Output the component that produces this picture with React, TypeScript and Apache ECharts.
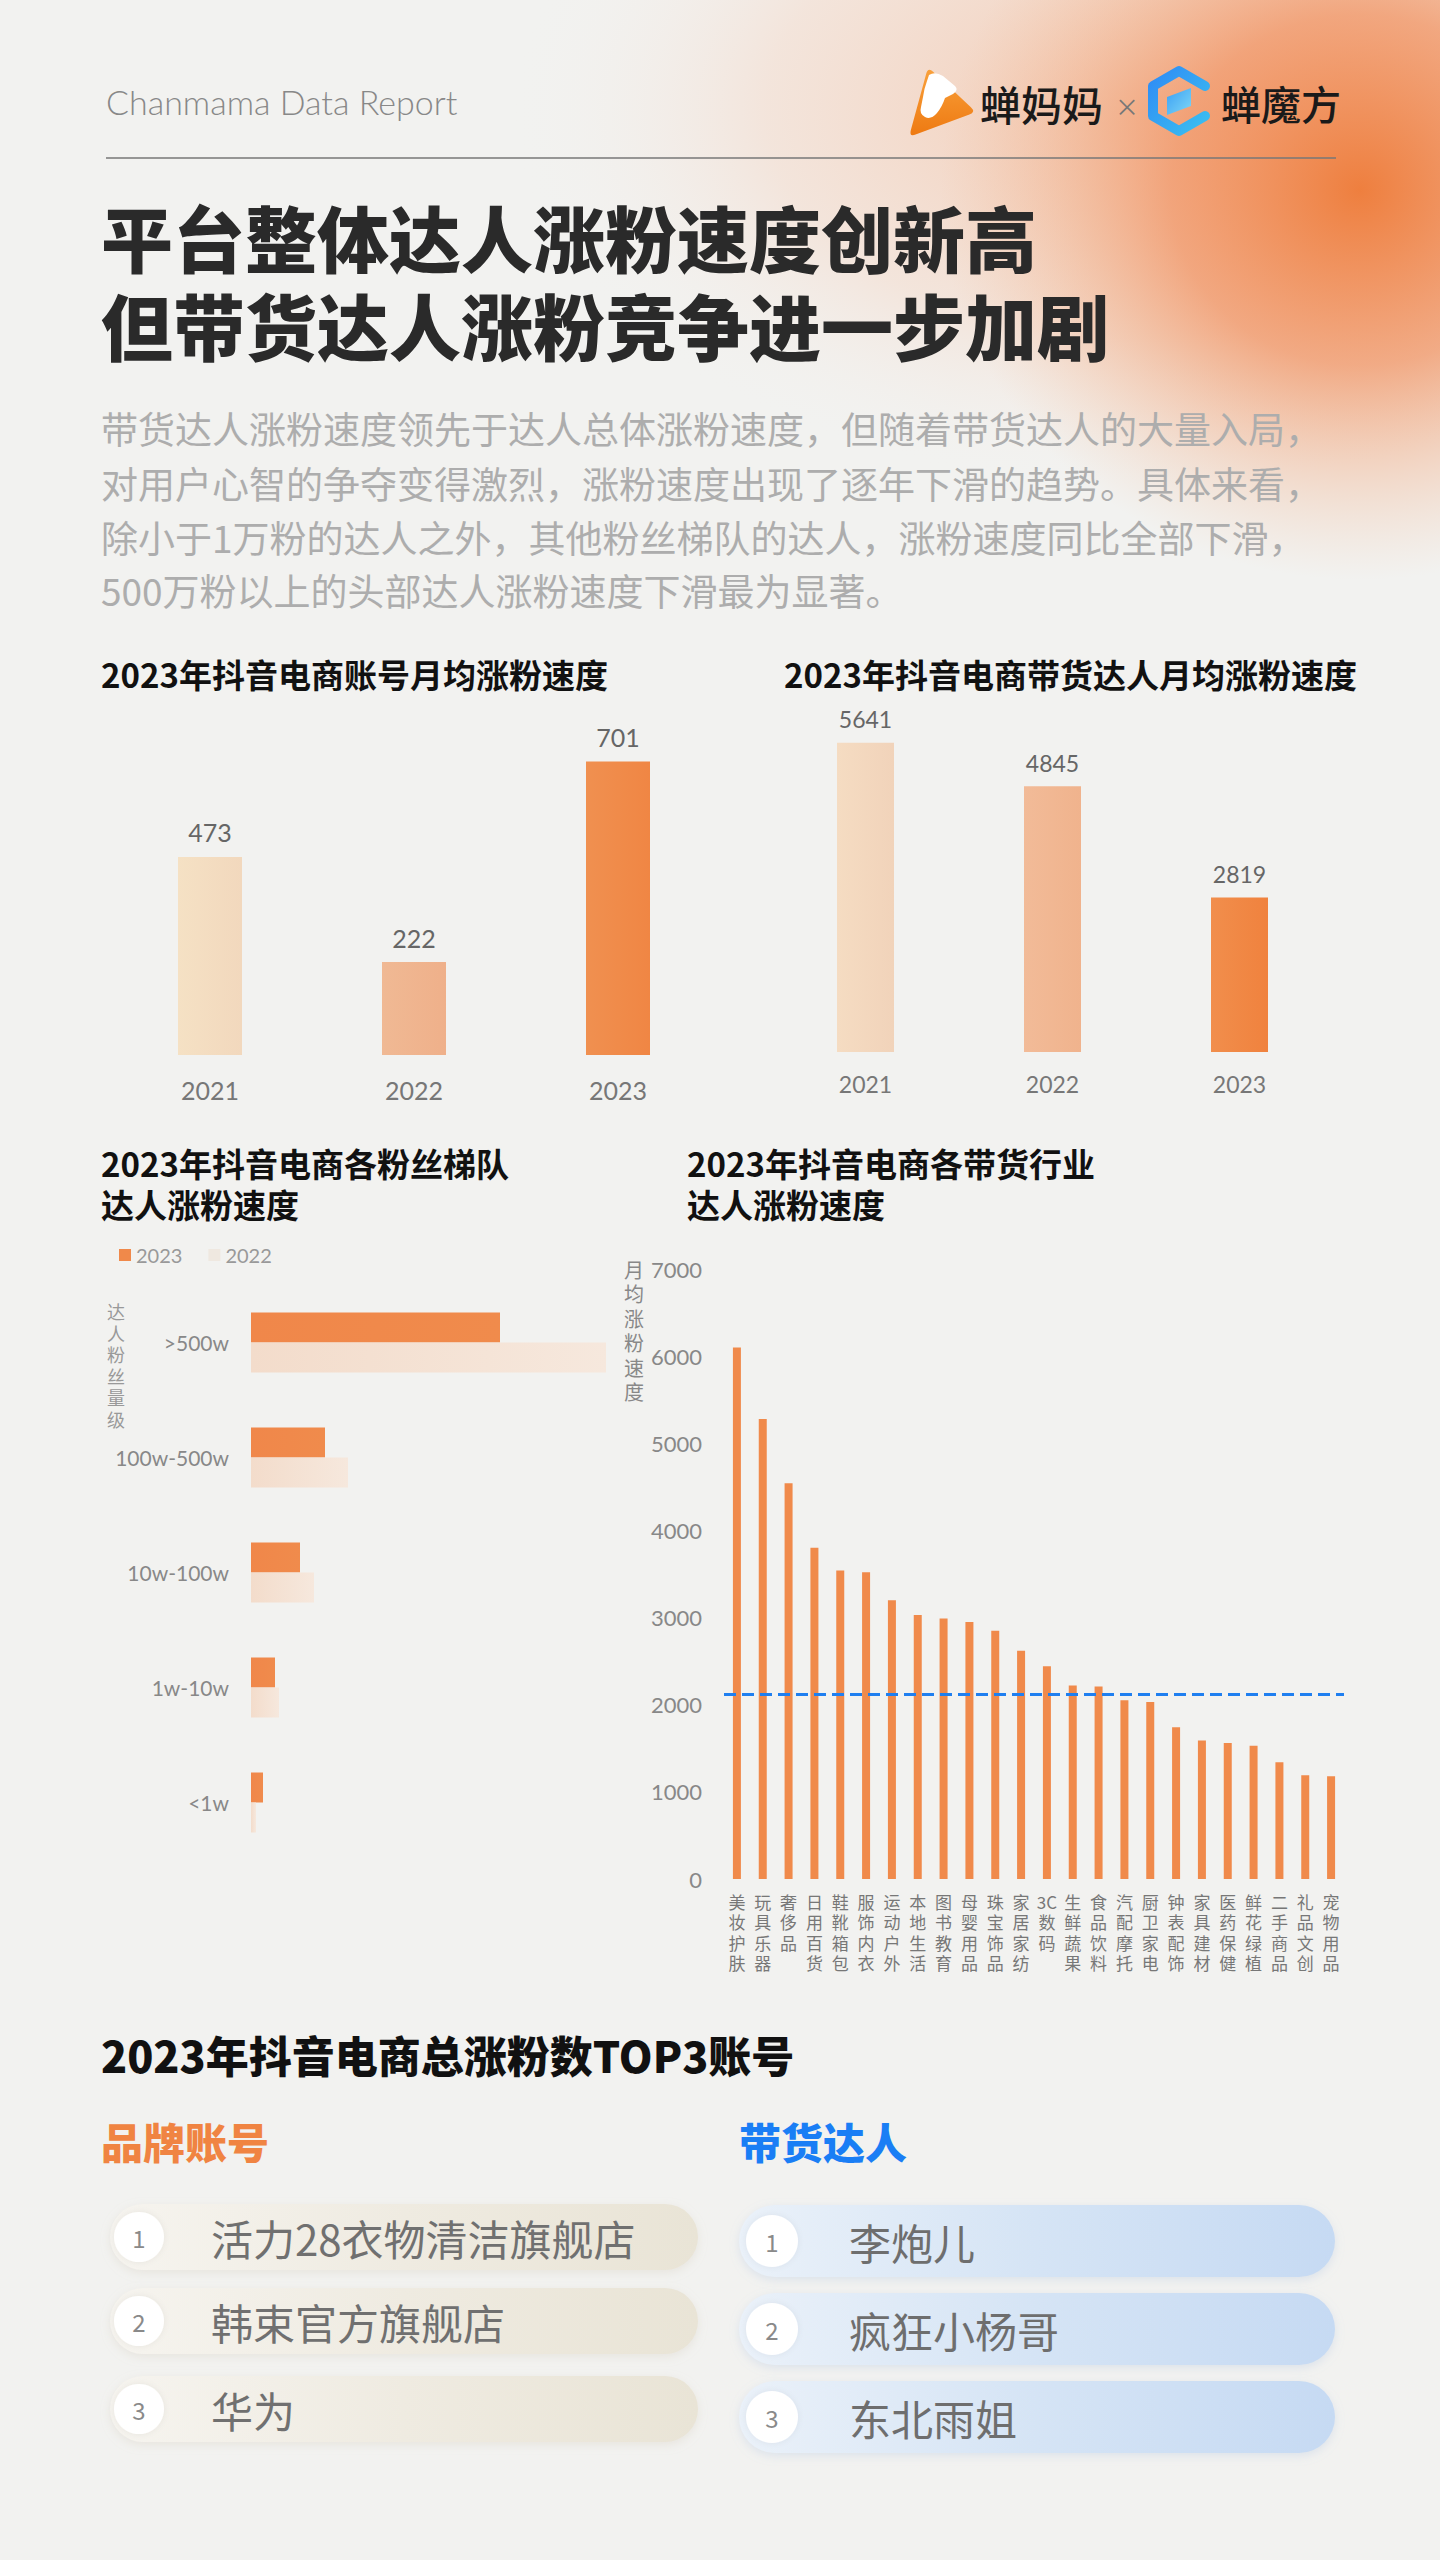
import React, { useEffect, useRef } from 'react';
import * as echarts from 'echarts';

const FONT = '"Noto Sans CJK SC", "Noto Sans", sans-serif';
const LIGHT = 'Lato, "Noto Sans", "Noto Sans CJK SC", sans-serif';

const headerText = 'Chanmama Data Report';
const titleLines = ['平台整体达人涨粉速度创新高', '但带货达人涨粉竞争进一步加剧'];
const paragraphLines = [
  '带货达人涨粉速度领先于达人总体涨粉速度，但随着带货达人的大量入局，',
  '对用户心智的争夺变得激烈，涨粉速度出现了逐年下滑的趋势。具体来看，',
  '除小于1万粉的达人之外，其他粉丝梯队的达人，涨粉速度同比全部下滑，',
  '500万粉以上的头部达人涨粉速度下滑最为显著。',
];

const years = ['2021', '2022', '2023'];
const accountSpeed = [473, 222, 701];
const sellerSpeed = [5641, 4845, 2819];

const tiers = ['>500w', '100w-500w', '10w-100w', '1w-10w', '<1w'];
const tier2023 = [249, 74, 49, 24, 12];
const tier2022 = [355, 97, 63, 28, 5];
const tierAxisName = '达人粉丝量级';

const industries = ['美妆护肤', '玩具乐器', '奢侈品', '日用百货', '鞋靴箱包', '服饰内衣', '运动户外', '本地生活', '图书教育', '母婴用品', '珠宝饰品', '家居家纺', '3C数码', '生鲜蔬果', '食品饮料', '汽配摩托', '厨卫家电', '钟表配饰', '家具建材', '医药保健', '鲜花绿植', '二手商品', '礼品文创', '宠物用品'];
const industrySpeed = [6100, 5280, 4540, 3800, 3540, 3520, 3200, 3030, 2990, 2950, 2850, 2620, 2440, 2220, 2210, 2050, 2030, 1740, 1590, 1560, 1530, 1340, 1190, 1180];
const industryRefLine = 2120;
const industryAxisName = '月均涨粉速度';

const brandTop3 = ['活力28衣物清洁旗舰店', '韩束官方旗舰店', '华为'];
const sellerTop3 = ['李炮儿', '疯狂小杨哥', '东北雨姐'];

const ORANGE_LOGO = 'M17.2 6.8 Q19 0 24.1 4.8 L61.9 40.2 Q67 45 60.4 47.5 L6.6 67.5 Q0 70 1.8 63.2 Z';
const ORANGE_BIRD = 'M20 8 Q26 4 34 9 L46 19 Q50 23 44 27 L36 31 Q33 40 28 46 Q22 53 16 50 Q10 47 12 40 L14 30 Q15 22 18 14 Z';
try {
  echarts.graphic.registerShape('cmmLogo', echarts.graphic.extendPath(ORANGE_LOGO, {}) as any);
  echarts.graphic.registerShape('cmmBird', echarts.graphic.extendPath(ORANGE_BIRD, {}) as any);
} catch (e) {}

function txt(x: number, y: number, text: string, o: any = {}) {
  const align = o.align || 'left';
  const va = o.va || 'middle';
  return {
    type: 'text',
    x,
    y,
    z: o.z ?? 10,
    style: {
      text,
      fill: o.color || '#333',
      fontSize: o.size || 20,
      fontWeight: o.weight || 'normal',
      fontFamily: o.family || FONT,
      align,
      verticalAlign: va,
      textAlign: align,
      textVerticalAlign: va,
      lineHeight: o.lineHeight,
    },
  };
}

function buildOption() {
  const g: any[] = [];
  // background blobs
  g.push({
    type: 'ellipse', z: 0,
    shape: { cx: 1150, cy: 110, rx: 640, ry: 380 },
    style: { fill: new echarts.graphic.RadialGradient(0.5, 0.5, 0.5, [
      { offset: 0, color: 'rgba(244,170,130,0.6)' },
      { offset: 0.6, color: 'rgba(246,200,175,0.32)' },
      { offset: 1, color: 'rgba(242,242,240,0)' },
    ]) },
  });
  g.push({
    type: 'ellipse', z: 0,
    shape: { cx: 1360, cy: 190, rx: 420, ry: 390 },
    style: { fill: new echarts.graphic.RadialGradient(0.5, 0.5, 0.5, [
      { offset: 0, color: 'rgba(238,122,55,0.95)' },
      { offset: 0.45, color: 'rgba(241,145,95,0.72)' },
      { offset: 1, color: 'rgba(243,190,155,0)' },
    ]) },
  });

  // header
  g.push(txt(106, 101, headerText, { size: 34, color: '#888', weight: 300, family: LIGHT }));
  g.push({ type: 'line', z: 5, shape: { x1: 106, y1: 158, x2: 1336, y2: 158 }, style: { stroke: '#777', lineWidth: 1.5 } });
  // orange logo
  g.push({ type: 'cmmLogo', x: 909, y: 67, scaleX: 1.0, scaleY: 1.0, z: 10,
    style: { fill: new echarts.graphic.LinearGradient(0, 0, 0, 1, [{ offset: 0, color: '#f9a03a' }, { offset: 1, color: '#ee7a12' }]) } });
  g.push({ type: 'cmmBird', x: 909, y: 67, scaleX: 1.0, scaleY: 1.0, z: 11, style: { fill: '#ffffff' } });
  g.push(txt(980, 103, '蝉妈妈', { size: 41, weight: 500, color: '#1a1a1a' }));
  g.push(txt(1127, 105, '×', { size: 24, color: '#777', align: 'center' }));
  // blue logo
  g.push({ type: 'polyline', z: 10,
    shape: { points: [[1205, 86], [1179, 71], [1153, 86], [1153, 116], [1179, 131], [1205, 116]] },
    style: { fill: 'none', lineWidth: 10, lineJoin: 'round', lineCap: 'round',
      stroke: new echarts.graphic.LinearGradient(0, 0, 1, 1, [{ offset: 0, color: '#2f8cf5' }, { offset: 1, color: '#3bbff0' }]) } });
  g.push({ type: 'polygon', z: 11,
    shape: { points: [[1167, 97], [1191, 88], [1191, 106], [1167, 115]] },
    style: { fill: new echarts.graphic.LinearGradient(0, 0, 1, 1, [{ offset: 0, color: '#3aa0f5' }, { offset: 1, color: '#7fd7f5' }]) } });
  g.push(txt(1221, 103, '蝉魔方', { size: 40, weight: 500, color: '#1a1a1a' }));

  // title
  g.push(txt(101, 235, titleLines[0], { size: 72, weight: 900, color: '#2a2a2a' }));
  g.push(txt(101, 323, titleLines[1], { size: 72, weight: 900, color: '#2a2a2a' }));
  const paraY = [428, 483, 537, 590];
  paragraphLines.forEach((l, i) => g.push(txt(101, paraY[i], l, { size: 37, color: '#adadad' })));

  // section titles
  g.push(txt(101, 674, '2023年抖音电商账号月均涨粉速度', { size: 33, weight: 'bold', color: '#111' }));
  g.push(txt(784, 674, '2023年抖音电商带货达人月均涨粉速度', { size: 33, weight: 'bold', color: '#111' }));
  g.push(txt(101, 1163, '2023年抖音电商各粉丝梯队', { size: 33, weight: 'bold', color: '#111' }));
  g.push(txt(101, 1204, '达人涨粉速度', { size: 33, weight: 'bold', color: '#111' }));
  g.push(txt(687, 1163, '2023年抖音电商各带货行业', { size: 33, weight: 'bold', color: '#111' }));
  g.push(txt(687, 1204, '达人涨粉速度', { size: 33, weight: 'bold', color: '#111' }));

  // axis names (vertical, one glyph per line)
  tierAxisName.split('').forEach((c, i) => g.push(txt(116, 1311 + i * 21.6, c, { size: 18, color: '#999', align: 'center' })));
  industryAxisName.split('').forEach((c, i) => g.push(txt(634, 1269 + i * 24.5, c, { size: 20, color: '#888', align: 'center', z: 20 })));

  // top3 section
  g.push(txt(101, 2054, '2023年抖音电商总涨粉数TOP3账号', { size: 43, weight: 900, color: '#111' }));
  g.push(txt(101, 2140, '品牌账号', { size: 42, weight: 900, color: '#f08442' }));
  g.push(txt(739, 2140, '带货达人', { size: 42, weight: 900, color: '#1a7ef5' }));

  const leftY = [2237, 2321, 2409];
  const rightY = [2241, 2329, 2417];
  brandTop3.forEach((name, i) => {
    const h = 66;
    g.push({ type: 'rect', z: 5, shape: { x: 110, y: leftY[i] - h / 2, width: 588, height: h, r: h / 2 },
      style: { fill: new echarts.graphic.LinearGradient(0, 0, 1, 0, [{ offset: 0, color: '#f6f4ef' }, { offset: 0.5, color: '#efebe1' }, { offset: 1, color: '#e9e4d6' }]),
        shadowBlur: 10, shadowColor: 'rgba(200,190,170,0.25)', shadowOffsetY: 3 } });
    g.push({ type: 'circle', z: 6, shape: { cx: 139, cy: leftY[i], r: 25 }, style: { fill: '#ffffff', shadowBlur: 6, shadowColor: 'rgba(0,0,0,0.06)' } });
    g.push(txt(139, leftY[i], String(i + 1), { size: 24, color: '#8a8a8a', align: 'center', z: 12 }));
    g.push(txt(211, leftY[i], name, { size: 42, color: '#707070', z: 12 }));
  });
  sellerTop3.forEach((name, i) => {
    const h = 72;
    g.push({ type: 'rect', z: 5, shape: { x: 739, y: rightY[i] - h / 2, width: 596, height: h, r: h / 2 },
      style: { fill: new echarts.graphic.LinearGradient(0, 0, 1, 0, [{ offset: 0, color: '#eaf1f9' }, { offset: 0.5, color: '#d5e4f5' }, { offset: 1, color: '#c6daf3' }]),
        shadowBlur: 10, shadowColor: 'rgba(150,180,220,0.25)', shadowOffsetY: 3 } });
    g.push({ type: 'circle', z: 6, shape: { cx: 772, cy: rightY[i], r: 26 }, style: { fill: '#ffffff', shadowBlur: 6, shadowColor: 'rgba(0,0,0,0.06)' } });
    g.push(txt(772, rightY[i], String(i + 1), { size: 24, color: '#8a8a8a', align: 'center', z: 12 }));
    g.push(txt(849, rightY[i], name, { size: 42, color: '#6e6e6e', z: 12 }));
  });

  const accColors = [
    new echarts.graphic.LinearGradient(0, 0, 1, 0, [{ offset: 0, color: '#f5e1c4' }, { offset: 1, color: '#f2d8bd' }]),
    new echarts.graphic.LinearGradient(0, 0, 1, 0, [{ offset: 0, color: '#f0b994' }, { offset: 1, color: '#efb08a' }]),
    new echarts.graphic.LinearGradient(0, 0, 1, 0, [{ offset: 0, color: '#f09050' }, { offset: 1, color: '#f08644' }]),
  ];
  const selColors = [
    new echarts.graphic.LinearGradient(0, 0, 1, 0, [{ offset: 0, color: '#f5dcc2' }, { offset: 1, color: '#f1d3ba' }]),
    new echarts.graphic.LinearGradient(0, 0, 1, 0, [{ offset: 0, color: '#f2bb98' }, { offset: 1, color: '#f0b38d' }]),
    new echarts.graphic.LinearGradient(0, 0, 1, 0, [{ offset: 0, color: '#f18e4c' }, { offset: 1, color: '#f0823e' }]),
  ];

  const yearLabel = { color: '#777', fontSize: 25, fontFamily: LIGHT };

  return {
    animation: false,
    backgroundColor: '#f2f2f0',
    textStyle: { fontFamily: FONT },
    graphic: g,
    legend: {
      left: 114, top: 1240, itemWidth: 12, itemHeight: 12, itemGap: 26,
      icon: 'rect',
      textStyle: { fontSize: 20, color: '#999', fontFamily: LIGHT },
      data: [
        { name: '2023', itemStyle: { color: '#f0894a' } },
        { name: '2022', itemStyle: { color: '#efe8e0' } },
      ],
    },
    grid: [
      { left: 108, top: 720, width: 612, height: 335 },
      { left: 772, top: 723, width: 561, height: 329 },
      { left: 251, top: 1285, width: 400, height: 575 },
      { left: 724, top: 1269, width: 620, height: 610 },
    ],
    xAxis: [
      { gridIndex: 0, type: 'category', data: years, axisLine: { show: false }, axisTick: { show: false }, axisLabel: { ...yearLabel, margin: 22 } },
      { gridIndex: 1, type: 'category', data: years, axisLine: { show: false }, axisTick: { show: false }, axisLabel: { ...yearLabel, fontSize: 23, margin: 20 } },
      { gridIndex: 2, type: 'value', min: 0, max: 400, show: false },
      { gridIndex: 3, type: 'category', data: industries, axisLine: { show: false }, axisTick: { show: false },
        axisLabel: { interval: 0, fontSize: 17, lineHeight: 20.5, color: '#777', margin: 12,
          formatter: (v: string) => (v.match(/[A-Za-z0-9]+|[^A-Za-z0-9]/g) || []).join('\n') } },
    ],
    yAxis: [
      { gridIndex: 0, type: 'value', min: 0, max: 800, show: false },
      { gridIndex: 1, type: 'value', min: 0, max: 6000, show: false },
      { gridIndex: 2, type: 'category', data: tiers, inverse: true, axisLine: { show: false }, axisTick: { show: false },
        axisLabel: { fontSize: 21, color: '#888', margin: 22, fontFamily: LIGHT } },
      { gridIndex: 3, type: 'value', min: 0, max: 7000, interval: 1000, axisLine: { show: false }, axisTick: { show: false },
        splitLine: { show: false },
        axisLabel: { fontSize: 22, color: '#888', margin: 22, fontFamily: LIGHT, formatter: (v: number) => String(v) } },
    ],
    series: [
      {
        type: 'bar', xAxisIndex: 0, yAxisIndex: 0, barWidth: 64,
        data: accountSpeed.map((v, i) => ({ value: v, itemStyle: { color: accColors[i] } })),
        label: { show: true, position: 'top', distance: 12, fontSize: 25, color: '#666', fontFamily: LIGHT },
      },
      {
        type: 'bar', xAxisIndex: 1, yAxisIndex: 1, barWidth: 57,
        data: sellerSpeed.map((v, i) => ({ value: v, itemStyle: { color: selColors[i] } })),
        label: { show: true, position: 'top', distance: 12, fontSize: 23, color: '#666', fontFamily: LIGHT },
      },
      {
        name: '2023', type: 'bar', xAxisIndex: 2, yAxisIndex: 2, barWidth: 30, barGap: '0%',
        itemStyle: { color: new echarts.graphic.LinearGradient(0, 0, 1, 0, [{ offset: 0, color: '#f0874a' }, { offset: 1, color: '#f08b4c' }]) },
        data: tier2023,
      },
      {
        name: '2022', type: 'bar', xAxisIndex: 2, yAxisIndex: 2, barWidth: 30, barGap: '0%',
        itemStyle: { color: new echarts.graphic.LinearGradient(0, 0, 1, 0, [{ offset: 0, color: '#f3dccb' }, { offset: 1, color: '#f6e8dd' }]) },
        data: tier2022,
      },
      {
        type: 'bar', xAxisIndex: 3, yAxisIndex: 3, barWidth: 8,
        itemStyle: { color: '#f08a4b' },
        data: industrySpeed,
        markLine: {
          silent: true, symbol: 'none', label: { show: false },
          lineStyle: { color: '#1f7ff0', width: 3, type: [12, 6] },
          data: [{ yAxis: industryRefLine }],
        },
      },
    ],
  };
}

export default function App() {
  const ref = useRef<HTMLDivElement>(null);
  useEffect(() => {
    document.body.style.margin = '0';
    if (!ref.current) return;
    const chart = echarts.init(ref.current, null, { renderer: 'svg' });
    chart.setOption(buildOption() as any);
    return () => chart.dispose();
  }, []);
  return <div ref={ref} style={{ width: 1440, height: 2560 }} />;
}
